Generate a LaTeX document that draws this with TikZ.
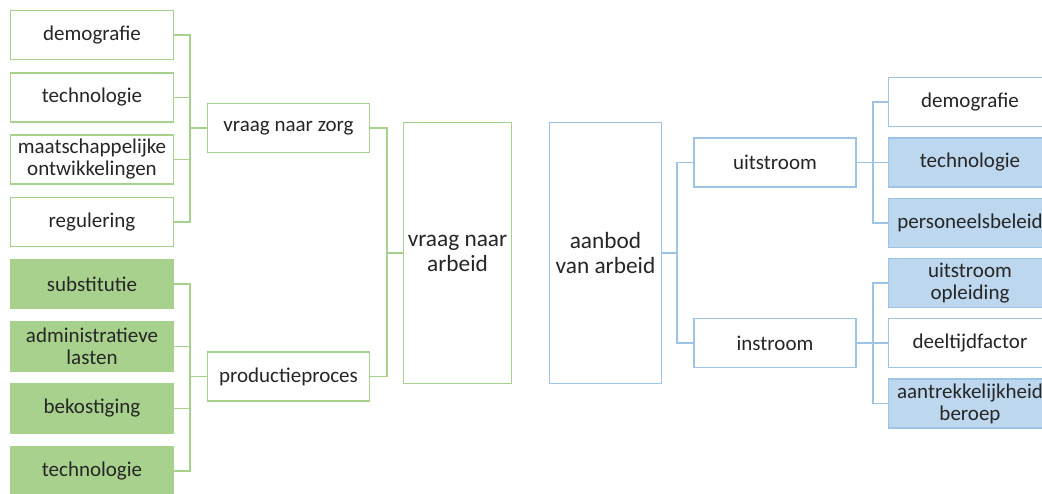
\documentclass[tikz,border=0pt]{standalone}
\usepackage{fontspec}
\setmainfont{Carlito}
\definecolor{grnline}{HTML}{A9D18E}
\definecolor{grnfill}{HTML}{A9D18E}
\definecolor{bluline}{HTML}{9DC3E6}
\definecolor{blufill}{HTML}{BDD7EE}
\definecolor{txt}{HTML}{262626}
\tikzset{
  box/.style={draw, line width=1.3pt, align=center, text=txt, inner sep=0pt,
    font=\fontsize{21}{22}\selectfont},
  gbox/.style={box, draw=grnline, fill=white},
  gfbox/.style={box, draw=grnline, fill=grnfill},
  bbox/.style={box, draw=bluline, fill=white},
  bfbox/.style={box, draw=bluline, fill=blufill},
  leaf/.style={minimum width=163pt, minimum height=49pt},
  mid/.style={minimum width=162pt, minimum height=49pt},
  big/.style={font=\fontsize{23.3}{25}\selectfont, minimum height=261pt},
  gline/.style={draw=grnline, line width=1.3pt},
  bline/.style={draw=bluline, line width=1.3pt},
}
\begin{document}
\begin{tikzpicture}[x=1pt,y=-1pt]
\useasboundingbox (0,0) rectangle (1042,493);
\clip (0,0) rectangle (1042,493);

% demand side: factors
\node[gbox, leaf] (dem)  at (92,35)    {demografie};
\node[gbox, leaf] (tech) at (92,97.5)  {technologie};
\node[gbox, leaf] (maat) at (92,159.5) {maatschappelijke\\ontwikkelingen};
\node[gbox, leaf] (reg)  at (92,222)   {regulering};
\node[gfbox, leaf] (sub)  at (92,284)   {substitutie};
\node[gfbox, leaf] (adm)  at (92,346.5) {administratieve\\lasten};
\node[gfbox, leaf] (bek)  at (92,408.5) {bekostiging};
\node[gfbox, leaf] (tec2) at (92,471)   {technologie};

\node[gbox, mid] (zorg) at (288.5,128)   {vraag naar zorg};
\node[gbox, mid] (prod) at (288.5,376.5) {productieproces};

\node[gbox, big, minimum width=108pt] (vraag) at (457.5,253) {vraag naar\\arbeid};
\node[bbox, big, minimum width=112pt] (aanbod) at (605.5,253) {aanbod\\van arbeid};

% supply side
\node[bbox, mid] (uit) at (775,162.5) {uitstroom};
\node[bbox, mid] (in)  at (775,343)   {instroom};

\node[bbox, leaf]  (rdem)  at (970,102)   {demografie};
\node[bfbox, leaf] (rtech) at (970,162.5) {technologie};
\node[bfbox, leaf] (pers)  at (970,223)   {personeelsbeleid};
\node[bfbox, leaf] (opl)   at (970,283)   {uitstroom\\opleiding};
\node[bbox, leaf]  (deel)  at (970,343)   {deeltijdfactor};
\node[bfbox, leaf] (aant)  at (970,403.5) {aantrekkelijkheid\\beroep};

% bus points
\coordinate (bz) at (190,128);
\coordinate (bp) at (190,376.5);
\coordinate (bv) at (387,253);
\coordinate (ba) at (677,253);
\coordinate (bu) at (873,162.5);
\coordinate (bi) at (873,343);

% connectors, demand side
\foreach \c in {dem,tech,maat,reg}
  \draw[gline] (\c.east) -| (bz) |- (zorg.west);
\foreach \c in {sub,adm,bek,tec2}
  \draw[gline] (\c.east) -| (bp) |- (prod.west);
\foreach \c in {zorg,prod}
  \draw[gline] (\c.east) -| (bv) |- (vraag.west);

% connectors, supply side
\foreach \c in {uit,in}
  \draw[bline] (aanbod.east) -| (ba) |- (\c.west);
\foreach \c in {rdem,rtech,pers}
  \draw[bline] (uit.east) -| (bu) |- (\c.west);
\foreach \c in {opl,deel,aant}
  \draw[bline] (in.east) -| (bi) |- (\c.west);
\end{tikzpicture}
\end{document}
